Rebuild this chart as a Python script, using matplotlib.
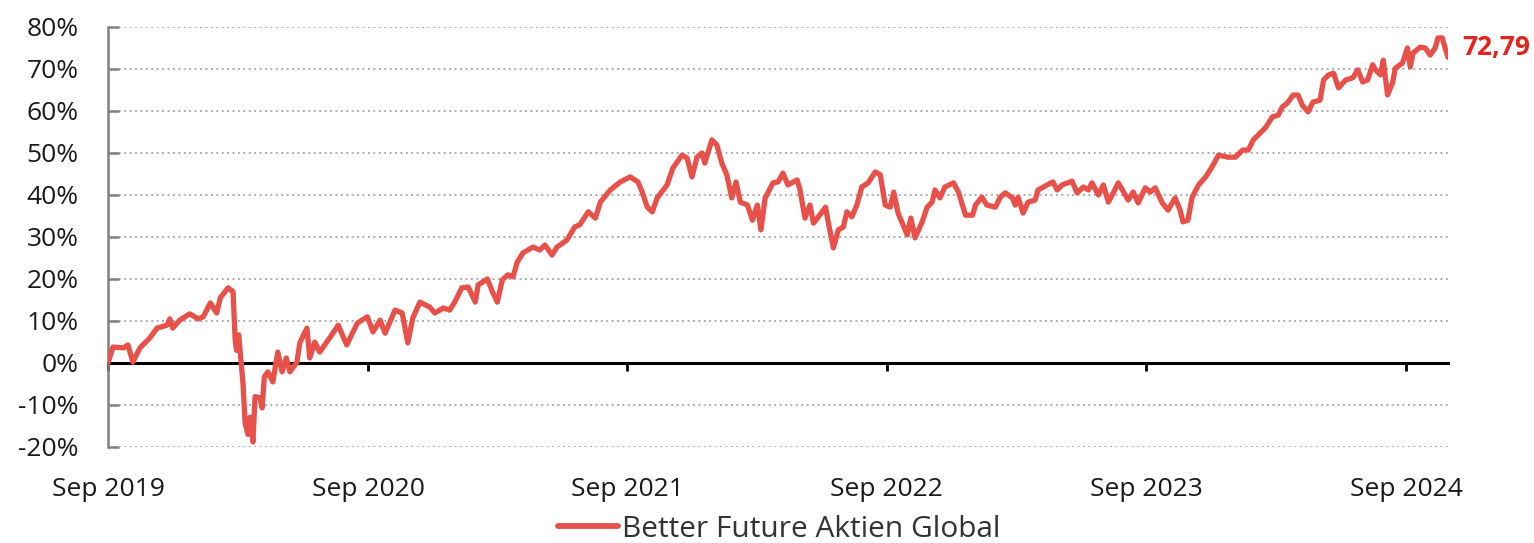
import matplotlib
matplotlib.use("Agg")
import matplotlib.pyplot as plt
import matplotlib.dates as mdates
from matplotlib.ticker import FuncFormatter
import pandas as pd

plt.rcParams['font.family'] = ['Open Sans', 'DejaVu Sans']

series_name = "Better Future Aktien Global"
last_label = "72,79"

dates = [
    "2019-09-01", "2019-09-08", "2019-09-23", "2019-09-29", "2019-10-06", "2019-10-16", "2019-10-30",
    "2019-11-09", "2019-11-23", "2019-11-27", "2019-12-01", "2019-12-11", "2019-12-25",
    "2020-01-06", "2020-01-13", "2020-01-23", "2020-02-01", "2020-02-06", "2020-02-17", "2020-02-24",
    "2020-02-27", "2020-02-29", "2020-03-03", "2020-03-09", "2020-03-12", "2020-03-16", "2020-03-19",
    "2020-03-23", "2020-03-26", "2020-04-02", "2020-04-05", "2020-04-08", "2020-04-13", "2020-04-20",
    "2020-04-27", "2020-05-03", "2020-05-09", "2020-05-14", "2020-05-24", "2020-05-28", "2020-06-07",
    "2020-06-11", "2020-06-18", "2020-06-25", "2020-07-10", "2020-07-21", "2020-08-02", "2020-08-17",
    "2020-08-31", "2020-09-08", "2020-09-18", "2020-09-25", "2020-10-09", "2020-10-19", "2020-10-27",
    "2020-11-03", "2020-11-13", "2020-11-27", "2020-12-04", "2020-12-16", "2020-12-25",
    "2021-01-01", "2021-01-11", "2021-01-20", "2021-01-30", "2021-02-03", "2021-02-16", "2021-02-23",
    "2021-03-02", "2021-03-09", "2021-03-17", "2021-03-24", "2021-03-30", "2021-04-07", "2021-04-21",
    "2021-05-01", "2021-05-08", "2021-05-18", "2021-05-25", "2021-06-08", "2021-06-19", "2021-06-26",
    "2021-07-08", "2021-07-18", "2021-07-25", "2021-08-08", "2021-08-22", "2021-09-05", "2021-09-16",
    "2021-09-22", "2021-09-29", "2021-10-06", "2021-10-13", "2021-10-27", "2021-11-04", "2021-11-17",
    "2021-11-24", "2021-12-01", "2021-12-08", "2021-12-15", "2021-12-19", "2021-12-29",
    "2022-01-05", "2022-01-12", "2022-01-19", "2022-01-26", "2022-02-01", "2022-02-07", "2022-02-17",
    "2022-02-24", "2022-03-03", "2022-03-08", "2022-03-14", "2022-03-25", "2022-04-01", "2022-04-08",
    "2022-04-15", "2022-04-28", "2022-05-02", "2022-05-09", "2022-05-16", "2022-05-21", "2022-05-28",
    "2022-06-07", "2022-06-11", "2022-06-18", "2022-06-25", "2022-07-02", "2022-07-07", "2022-07-14",
    "2022-07-21", "2022-07-28", "2022-08-06", "2022-08-16", "2022-08-23", "2022-08-30", "2022-09-06",
    "2022-09-11", "2022-09-17", "2022-09-30", "2022-10-05", "2022-10-11", "2022-10-21", "2022-10-28",
    "2022-11-04", "2022-11-08", "2022-11-15", "2022-11-22", "2022-12-04", "2022-12-11", "2022-12-21",
    "2022-12-31", "2023-01-04", "2023-01-13", "2023-01-20", "2023-02-01", "2023-02-08", "2023-02-15",
    "2023-02-25", "2023-03-01", "2023-03-05", "2023-03-12", "2023-03-19", "2023-03-29", "2023-04-02",
    "2023-04-15", "2023-04-23", "2023-04-29", "2023-05-06", "2023-05-20", "2023-05-27", "2023-06-05",
    "2023-06-12", "2023-06-17", "2023-06-26", "2023-07-03", "2023-07-10", "2023-07-17", "2023-07-24",
    "2023-08-03", "2023-08-07", "2023-08-14", "2023-08-21", "2023-08-31", "2023-09-07", "2023-09-14",
    "2023-09-24", "2023-10-02", "2023-10-12", "2023-10-19", "2023-10-23", "2023-10-30", "2023-11-05",
    "2023-11-14", "2023-11-24", "2023-12-03", "2023-12-12", "2023-12-25",
    "2024-01-05", "2024-01-15", "2024-01-23", "2024-01-30", "2024-02-09", "2024-02-16", "2024-02-26",
    "2024-03-05", "2024-03-11", "2024-03-18", "2024-03-26", "2024-04-02", "2024-04-08", "2024-04-16",
    "2024-04-23", "2024-05-03", "2024-05-08", "2024-05-15", "2024-05-22", "2024-05-29", "2024-06-08",
    "2024-06-18", "2024-06-25", "2024-07-02", "2024-07-09", "2024-07-16", "2024-07-20", "2024-07-27",
    "2024-07-31", "2024-08-06", "2024-08-13", "2024-08-17", "2024-08-27", "2024-09-03", "2024-09-07",
    "2024-09-11", "2024-09-21", "2024-09-28", "2024-10-05", "2024-10-12", "2024-10-16", "2024-10-22",
    "2024-10-26", "2024-10-30",
]

perf = [
    0.0, 3.8, 3.6, 4.3, 0.2, 3.6, 6.0,
    8.3, 9.0, 10.5, 8.3, 10.2, 11.7,
    10.5, 11.0, 14.3, 11.9, 15.5, 17.9, 17.0,
    5.5, 3.0, 6.7, -4.8, -14.3, -17.0, -12.9,
    -18.8, -8.0, -8.3, -10.7, -3.3, -2.1, -4.5,
    2.6, -2.1, 1.2, -2.1, 0.2, 4.8, 8.3,
    1.2, 5.0, 2.6, 6.2, 9.0, 4.3, 9.5,
    11.0, 7.4, 10.2, 7.1, 12.6, 11.9, 4.8,
    10.7, 14.5, 13.3, 11.9, 13.1, 12.6,
    14.5, 17.9, 18.1, 14.5, 18.6, 20.0, 17.0,
    14.5, 19.8, 21.0, 20.5, 24.0, 26.2, 27.6,
    26.9, 28.1, 25.7, 27.6, 29.3, 32.4, 32.9,
    36.0, 34.5, 38.3, 41.2, 43.1, 44.3, 43.1,
    40.7, 37.1, 36.0, 39.3, 42.4, 46.4, 49.5,
    48.8, 44.3, 49.0, 50.0, 47.6, 53.1,
    51.9, 47.6, 44.8, 39.3, 43.1, 38.3, 37.6,
    34.0, 37.6, 31.7, 39.3, 42.9, 43.1, 45.2,
    42.4, 43.6, 41.2, 34.5, 37.6, 33.3, 34.8,
    37.1, 33.3, 27.4, 31.7, 32.4, 36.0, 34.8,
    37.6, 41.9, 42.9, 45.5, 44.8, 37.6, 37.1,
    40.7, 35.7, 30.5, 34.5, 29.8, 33.6, 37.1,
    38.3, 41.2, 39.3, 41.9, 42.9, 40.7, 35.2,
    35.2, 37.6, 39.5, 37.6, 37.1, 39.5, 40.5,
    39.3, 37.6, 39.5, 35.7, 38.3, 38.8, 41.2,
    42.4, 43.1, 41.2, 42.4, 43.3, 40.5, 41.9,
    41.2, 42.9, 40.0, 42.4, 38.3, 40.5, 42.9,
    40.0, 38.8, 40.7, 38.1, 41.7, 40.7, 41.7,
    38.1, 36.4, 39.3, 36.4, 33.6, 34.0, 39.5,
    42.4, 44.3, 46.7, 49.5, 49.0,
    49.0, 50.7, 50.7, 53.1, 54.8, 56.0, 58.6,
    59.0, 61.0, 61.9, 63.8, 63.8, 61.4, 59.8,
    62.1, 62.6, 67.4, 68.6, 69.0, 65.5, 67.4,
    67.9, 69.8, 66.9, 67.4, 71.0, 69.8, 68.6,
    72.1, 63.8, 66.7, 70.2, 71.4, 75.0, 70.5,
    73.8, 75.2, 75.0, 73.3, 75.0, 77.4, 77.4,
    75.0, 72.79,
]

y_ticks = [-20, -10, 0, 10, 20, 30, 40, 50, 60, 70, 80]
x_ticks = ["2019-09-01", "2020-09-01", "2021-09-01", "2022-09-01", "2023-09-01", "2024-09-01"]

line_color = "#E8504A"
label_color = "#E2231E"
text_color = "#1a1a1a"

x = pd.to_datetime(dates)

fig = plt.figure(figsize=(15.34, 5.43), dpi=100)
ax = fig.add_axes([0.0704, 0.1768, 0.8735, 0.7735])

ax.plot(x, perf, color=line_color, linewidth=3.8, label=series_name, zorder=3,
        solid_joinstyle="round", solid_capstyle="round")

ax.set_xlim(x[0], x[-1])
ax.set_ylim(-20, 80)
ax.set_yticks(y_ticks)
ax.yaxis.set_major_formatter(FuncFormatter(lambda v, p: f"{v:.0f}%"))
for t in y_ticks:
    if t != 0:
        ax.axhline(t, color="#A0A0A0", linewidth=1.3, linestyle=(0, (1, 2)), zorder=1)

ax.set_xticks(pd.to_datetime(x_ticks))
ax.xaxis.set_major_formatter(mdates.DateFormatter("%b %Y"))

for s in ["top", "right"]:
    ax.spines[s].set_visible(False)
ax.spines["left"].set_color("#808080")
ax.spines["left"].set_linewidth(1.8)
ax.spines["bottom"].set_position(("data", 0))
ax.spines["bottom"].set_color("black")
ax.spines["bottom"].set_linewidth(2.2)
ax.spines["bottom"].set_zorder(2)

ax.tick_params(axis="y", direction="in", length=8, width=1.8, color="#808080",
               labelsize=19, pad=21, labelcolor=text_color)
ax.tick_params(axis="x", length=6, width=2, color="black", labelsize=19,
               pad=76, labelcolor=text_color)

ax.annotate(last_label, xy=(x[-1], perf[-1]), xytext=(10, 7), textcoords="offset points",
            color=label_color, fontsize=19, fontweight="bold", va="center", ha="left",
            annotation_clip=False)

leg = fig.legend(loc="lower center", bbox_to_anchor=(0.508, -0.051), frameon=False,
                 fontsize=21.5, handlelength=2.0, handletextpad=0.15)
for t in leg.get_texts():
    t.set_color("#333333")
for h in leg.get_lines():
    h.set_linewidth(4.2)

fig.savefig("out.png", dpi=100)
